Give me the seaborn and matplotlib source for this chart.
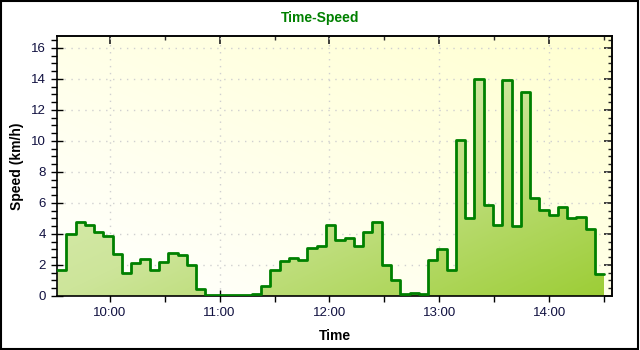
import numpy as np
import pandas as pd
import matplotlib
matplotlib.use("Agg")
import matplotlib.pyplot as plt
import seaborn as sns
from matplotlib.ticker import MultipleLocator, FuncFormatter
from matplotlib.colors import LinearSegmentedColormap

# ---- data ----
start_time = "09:31:12"
interval_seconds = 304
speeds = [1.7, 4.0, 4.8, 4.55, 4.15, 3.9, 2.7, 1.5, 2.15, 2.4,
          1.65, 2.2, 2.75, 2.65, 2.0, 0.45, 0.05, 0.05, 0.05, 0.05,
          0.05, 0.12, 0.65, 1.7, 2.25, 2.45, 2.3, 3.1, 3.2, 4.55,
          3.6, 3.75, 3.2, 4.1, 4.75, 2.0, 1.05, 0.15, 0.2, 0.15,
          2.32, 3.05, 1.65, 10.05, 5.05, 14.0, 5.85, 4.6, 13.95, 4.5,
          13.15, 6.3, 5.55, 5.2, 5.75, 5.05, 5.1, 4.3, 1.42]
x_limits = ("09:31:12", "14:34:20")
y_limits = (0, 16.77)
title = "Time-Speed"
x_label = "Time"
y_label = "Speed (km/h)"

def to_hours(s):
    h, m, sec = [int(p) for p in s.split(":")]
    return h + m / 60 + sec / 3600

t0 = to_hours(start_time)
hours = [t0 + i * interval_seconds / 3600 for i in range(len(speeds) + 1)]
vals = speeds + [speeds[-1]]
df = pd.DataFrame({"time": hours, "speed": vals})

# ---- figure ----
sns.set_theme(style="white")
plt.rcParams["font.family"] = ["Liberation Sans", "DejaVu Sans"]
fig = plt.figure(figsize=(6.4, 3.5), dpi=100)
ax = fig.add_axes([57 / 640, 1 - 296 / 350, 555 / 640, 260 / 350])

xlo, xhi = to_hours(x_limits[0]), to_hours(x_limits[1])
ylo, yhi = y_limits
ax.set_xlim(xlo, xhi)
ax.set_ylim(ylo, yhi)

# background gradient (bottom-left white -> top-right light yellow)
gx, gy = np.meshgrid(np.linspace(0, 1, 200), np.linspace(0, 1, 200))
g = (gx + gy) / 2
bg_cmap = LinearSegmentedColormap.from_list("bg", ["#ffffff", "#ffffd0"])
ax.imshow(g, extent=(xlo, xhi, ylo, yhi), origin="lower", aspect="auto",
          cmap=bg_cmap, zorder=0, interpolation="bilinear")

# grid
ax.grid(True, which="major", color="#d0d0d0", linestyle=(0, (1, 4)), linewidth=1)
ax.set_axisbelow(True)

# fill with gradient (top-left light -> bottom-right strong green)
fill = ax.fill_between(df["time"], df["speed"], step="post", color="none", zorder=2)
g2 = (gx + (1 - gy)) / 2
fill_cmap = LinearSegmentedColormap.from_list("fg", ["#e4f1c4", "#cde59a", "#9ccd35"])
im = ax.imshow(g2, extent=(xlo, xhi, ylo, yhi), origin="lower", aspect="auto",
               cmap=fill_cmap, zorder=2, interpolation="bilinear")
path = fill.get_paths()[0]
im.set_clip_path(path, transform=ax.transData)

sns.lineplot(data=df, x="time", y="speed", drawstyle="steps-post",
             color="#008000", linewidth=2, ax=ax, zorder=3)

# ticks
ax.xaxis.set_major_locator(MultipleLocator(1))
ax.xaxis.set_minor_locator(MultipleLocator(0.5))
ax.xaxis.set_major_formatter(FuncFormatter(lambda v, p: f"{int(round(v)):d}:00"))
ax.yaxis.set_major_locator(MultipleLocator(2))
ax.yaxis.set_minor_locator(MultipleLocator(0.5))
tick_color = "#101040"
ax.tick_params(axis="both", which="major", direction="inout", length=8, width=1,
               colors="black", labelcolor=tick_color, labelsize=9.5, pad=4)
ax.tick_params(axis="both", which="minor", direction="out", length=4, width=1,
               colors="black")
ax.tick_params(bottom=True, left=True, which="both")

for side in ["left", "bottom", "right", "top"]:
    ax.spines[side].set_color("black")
    ax.spines[side].set_linewidth(1.2)

# right/top inner ticks
secy = ax.secondary_yaxis("right")
secy.yaxis.set_major_locator(MultipleLocator(2))
secy.yaxis.set_minor_locator(MultipleLocator(0.5))
secy.tick_params(which="major", direction="in", length=6, labelright=False)
secy.tick_params(which="minor", direction="in", length=3)
secx = ax.secondary_xaxis("top")
secx.xaxis.set_major_locator(MultipleLocator(1))
secx.xaxis.set_minor_locator(MultipleLocator(0.5))
secx.tick_params(which="major", direction="in", length=6, labeltop=False)
secx.tick_params(which="minor", direction="in", length=3)

ax.set_xlabel(x_label, fontsize=10, fontweight="bold", color="black", labelpad=7)
ax.set_ylabel(y_label, fontsize=10, fontweight="bold", color="black", labelpad=5)
fig.text(0.5, 1 - 18 / 350, title, ha="center", va="center", fontsize=10,
         fontweight="bold", color="#008000")

# figure border
fig.patches.append(plt.Rectangle((0.001, 0.002), 0.996, 0.996, transform=fig.transFigure,
                                 fill=False, edgecolor="black", linewidth=1.5))

fig.savefig("out.png", dpi=100, facecolor="white")
